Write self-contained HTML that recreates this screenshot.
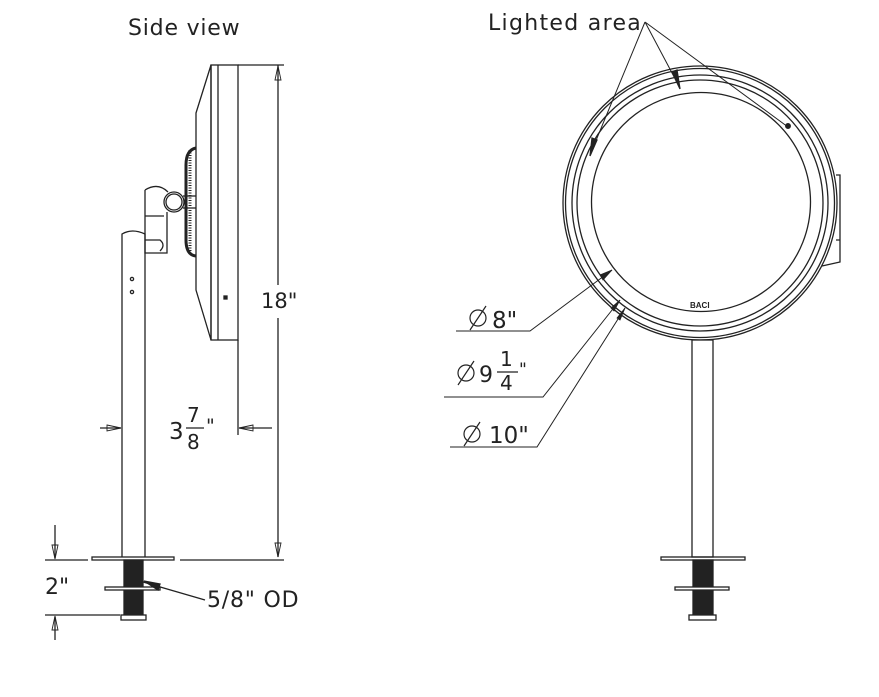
<!DOCTYPE html>
<html><head><meta charset="utf-8"><style>
html,body{margin:0;padding:0;background:#fff;width:879px;height:697px;overflow:hidden}
svg text{font-family:"DejaVu Sans","Liberation Sans",sans-serif;fill:#222}
</style></head><body>
<svg width="879" height="697" viewBox="0 0 879 697" xmlns="http://www.w3.org/2000/svg">
<g fill="none" stroke="#222" stroke-width="1.3">
<text x="128" y="35" font-size="22" letter-spacing="0.8" stroke="none">Side view</text>
<path d="M211,65 L196,113 L196,290 L211,340 Z"/>
<rect x="211" y="65" width="27" height="275"/>
<line x1="218" y1="65" x2="218" y2="340"/>
<rect x="224" y="296" width="3" height="3" fill="#222"/>
<path d="M196,148 Q186,150 186,165 L186,240 Q186,255 196,256" stroke-width="3"/>
<line x1="190" y1="150" x2="190" y2="254" stroke-dasharray="1 1.5" stroke-width="3"/>
<line x1="183" y1="196" x2="196" y2="196"/><line x1="183" y1="208" x2="196" y2="208"/>
<circle cx="174" cy="202" r="10"/><circle cx="174" cy="202" r="8"/>
<path d="M145,190 Q158,182 168,192 M145,190 L145,253 L167,253 L167,212 M145,216 L164,216"/>
<path d="M145,240 L160,240 Q166,245 160,251"/>
<path d="M122,557 L122,234 Q132,228 145,234 L145,557"/>
<circle cx="132" cy="279" r="1.6"/><circle cx="132" cy="292" r="1.6"/>
<rect x="92" y="557" width="82" height="3"/>
<rect x="124" y="560" width="19" height="57" fill="#222"/>
<rect x="105" y="587" width="55" height="3" fill="#fff"/>
<rect x="121" y="615" width="25" height="5" fill="#fff"/>
<line x1="238" y1="65" x2="284" y2="65"/>
<line x1="278" y1="65" x2="278" y2="285"/><line x1="278" y1="318" x2="278" y2="557"/>
<path d="M275,80 L278,66 L281,80 Z M275,543 L278,557 L281,543 Z" stroke-width="0.9"/>
<line x1="238" y1="340" x2="238" y2="435"/>
<line x1="180" y1="560" x2="284" y2="560"/>
<line x1="45" y1="560" x2="88" y2="560"/>
<line x1="45" y1="615" x2="120" y2="615"/>
<line x1="55" y1="525" x2="55" y2="558"/><line x1="55" y1="617" x2="55" y2="640"/>
<path d="M52,545 L55,559 L58,545 Z M52,630 L55,616 L58,630 Z" stroke-width="0.9"/>
<line x1="100" y1="428" x2="121" y2="428"/>
<path d="M107,425 L121,428 L107,431 Z" stroke-width="0.9"/>
<line x1="239" y1="428" x2="272" y2="428"/>
<path d="M253,425 L239,428 L253,431 Z" stroke-width="0.9"/>
<path d="M143,582 L205,600" /><path d="M144,581 L160,584 L158,590 Z" fill="#222"/>
<circle cx="700" cy="203" r="137"/><circle cx="700" cy="203" r="134.5"/>
<circle cx="700" cy="203" r="128"/><circle cx="700" cy="203" r="123"/>
<circle cx="701" cy="202" r="109.5"/>
<path d="M836,175 L840,175 L840,262 L822,266 M836,240 L840,240"/>
<rect x="692" y="340" width="21" height="217" fill="#fff"/>
<rect x="661" y="557" width="84" height="3"/>
<rect x="693" y="560" width="20" height="57" fill="#222"/>
<rect x="675" y="587" width="54" height="3" fill="#fff"/>
<rect x="689" y="615" width="27" height="5" fill="#fff"/>
<path d="M645,22 L590,155 M645,22 L680,88 M645,22 L788,127" stroke-width="1"/>
<path d="M590,156 L592,138 L597,140 Z M680,89 L672,72 L677,70 Z" fill="#222"/>
<circle cx="788" cy="126" r="2.3" fill="#222"/>
<path d="M456,331 L530,331 L612,270" stroke-width="1"/>
<path d="M444,397 L543,397 L620,300" stroke-width="1"/>
<path d="M450,447 L537,447 L625,308" stroke-width="1"/>
<path d="M612,270 L600,275 L603,280 Z M620,300 L611,308 L614,311 Z M625,308 L617,318 L620,320 Z" fill="#222" stroke-width="0.8"/>
<g stroke-width="1.2">
<circle cx="478" cy="318" r="8"/><line x1="470" y1="330" x2="486" y2="306"/>
<circle cx="466" cy="373" r="8"/><line x1="458" y1="385" x2="474" y2="361"/>
<circle cx="472" cy="434" r="8"/><line x1="464" y1="446" x2="480" y2="422"/>
</g>
<line x1="497" y1="372" x2="518" y2="372" stroke-width="1.2"/>
<line x1="186" y1="428" x2="204" y2="428" stroke-width="1.2"/>
</g>
<text x="488" y="30" font-size="22" letter-spacing="1.3">Lighted area</text>
<text x="261" y="308" font-size="21">18"</text>
<text x="169" y="439" font-size="23">3</text>
<text x="187" y="422" font-size="20">7</text>
<text x="187" y="449" font-size="20">8</text>
<text x="206" y="432" font-size="19">"</text>
<text x="45" y="594" font-size="22">2"</text>
<text x="207" y="607" font-size="22" letter-spacing="0.8">5/8" OD</text>
<text x="492" y="328" font-size="23">8"</text>
<text x="479" y="382" font-size="22">9</text>
<text x="500" y="366" font-size="20">1</text>
<text x="500" y="390" font-size="20">4</text>
<text x="519" y="375" font-size="17">"</text>
<text x="489" y="443" font-size="23">10"</text>
<text x="690" y="308" font-size="8" font-weight="bold" style="font-family:'Liberation Sans',sans-serif">BACI</text>
</svg>
</body></html>
